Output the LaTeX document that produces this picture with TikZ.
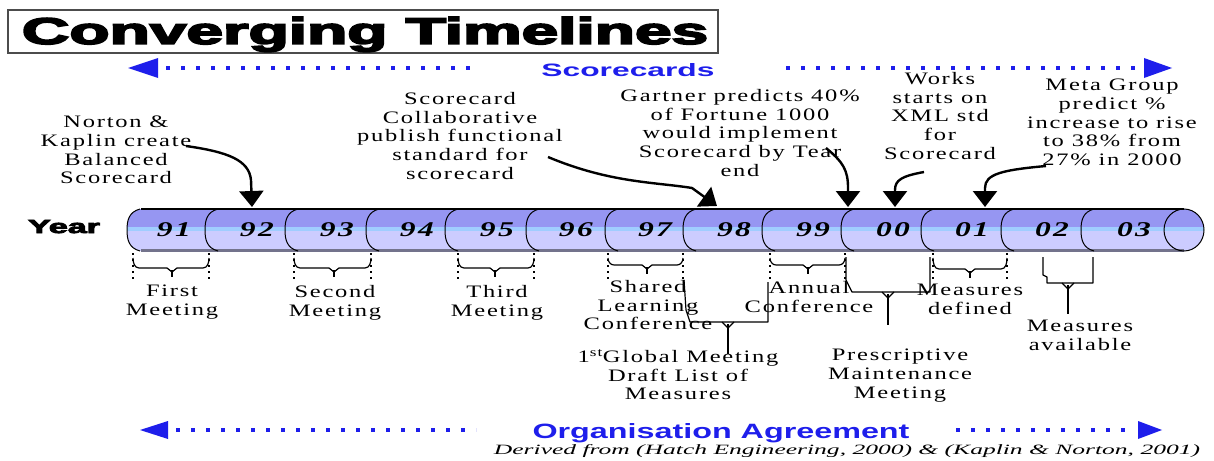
\documentclass[tikz,border=0pt]{standalone}
\usepackage{fontspec}
\usetikzlibrary{arrows.meta}
\setmainfont{Liberation Serif}
\newfontfamily\wide[FakeStretch=1.4,LetterSpace=10]{Liberation Serif}
\newfontfamily\yearfont[FakeStretch=1.5,LetterSpace=12]{Liberation Serif}
\newfontfamily\heavy[BoldFeatures={FakeBold=4}]{Liberation Sans}
\newfontfamily\bsans{Liberation Sans}
\definecolor{topc}{RGB}{150,150,242}
\definecolor{botc}{RGB}{204,204,255}
\definecolor{stripec}{RGB}{160,205,255}
\definecolor{edgec}{RGB}{115,115,140}
\definecolor{blu}{RGB}{30,30,235}
\tikzset{
  lab/.style={font=\wide\fontsize{17.5}{18.7}\selectfont, align=center, inner sep=0pt, anchor=north},
  toparrow/.style={line width=2.4pt, -{Triangle[width=24pt,length=16pt]}},
  brk/.style={line width=1.2pt, line join=round},
  stem/.style={line width=2.6pt},
  dotv/.style={line width=1.2pt, dash pattern=on 2pt off 4pt},
  bluedots/.style={blu, line width=4pt, dash pattern=on 4pt off 11pt},
  segline/.style={line width=1pt}
}
\newcommand\cylpath{(141,209) -- (1184,209) arc[start angle=-90,end angle=90,x radius=20,y radius=21] -- (141,251) .. controls (129,249) and (127,240) .. (127,230) .. controls (127,220) and (129,211) .. (141,209) -- cycle}
\begin{document}
\begin{tikzpicture}[x=1pt,y=-1pt]
\useasboundingbox (0,0) rectangle (1214,460);
% title
\draw[line width=1.6pt, black!70] (8,10) rectangle (718,53);
\node[anchor=base, inner sep=0pt] (title) at (365,44) {\resizebox{686pt}{27pt}{\heavy\bfseries Converging Timelines}};
% Scorecards dotted arrow
\coordinate (sl) at (128,68); \coordinate (sr) at (1172,68);
\fill[blu] (sl) -- (158,58) -- (158,78) -- cycle;
\draw[bluedots] (166,68) -- (472,68);
\node[anchor=base, inner sep=0pt, text=blu] (score) at (628,76) {\resizebox{173pt}{13pt}{\bsans\bfseries Scorecards}};
\draw[bluedots] (786,68) -- (1138,68);
\fill[blu] (sr) -- (1144,58) -- (1144,78) -- cycle;
% Organisation dotted arrow
\coordinate (ol) at (140,430); \coordinate (or) at (1162,430);
\fill[blu] (ol) -- (168,421) -- (168,439) -- cycle;
\draw[bluedots] (176,430) -- (476,430);
\node[anchor=base, inner sep=0pt, text=blu] (org) at (721,438) {\resizebox{377pt}{15pt}{\bsans\bfseries Organisation Agreement}};
\draw[bluedots] (956,430) -- (1134,430);
\fill[blu] (or) -- (1138,421) -- (1138,439) -- cycle;
\node[anchor=base, inner sep=0pt] (derived) at (847,454) {\resizebox{706pt}{10pt}{\itshape Derived from (Hatch Engineering, 2000) \& (Kaplin \& Norton, 2001)}};
% Year label
\node[anchor=base, inner sep=0pt] (year) at (64,233) {\resizebox{72pt}{13pt}{\heavy\bfseries Year}};
% cylinder
\begin{scope}
\clip \cylpath;
\fill[topc] (120,200) rectangle (1210,229);
\fill[botc] (120,229) rectangle (1210,256);
\fill[stripec] (120,226.5) rectangle (1210,231);
\end{scope}
\draw[line width=1.2pt] (141,209) -- (1184,209);
\draw[edgec, line width=2.2pt] (141,250.5) -- (1184,250.5);
\draw[line width=1pt] (1184,230) ellipse [x radius=20, y radius=21];
\foreach \b in {127,205,285,366,445,526,605,683,762,841,921,1001,1081}{
  \draw[segline] (\b+13,209) .. controls (\b+2,212) and (\b,220) .. (\b,230) .. controls (\b,240) and (\b+2,248) .. (\b+13,251);
}
\foreach \c/\n in {174/91,257/92,337/93,417/94,497/95,576/96,655/97,734/98,813/99,893/00,972/01,1052/02,1134/03}{
  \node[font=\yearfont\bfseries\itshape\fontsize{21}{21}\selectfont, inner sep=0pt] (y\n) at (\c,230) {\n};
}
% top annotations
\node[lab] (norton) at (116,116) {Norton \&\\Kaplin create\\Balanced\\Scorecard};
\node[lab] (collab) at (460,92) {Scorecard\\Collaborative\\publish functional\\standard for\\scorecard};
\node[lab] (gartner) at (740,89) {Gartner predicts 40\%\\of Fortune 1000\\would implement\\Scorecard by Tear\\end};
\node[lab] (works) at (940,72) {Works\\starts on\\XML std\\for\\Scorecard};
\node[lab] (meta) at (1112,79) {Meta Group\\predict \%\\increase to rise\\to 38\% from\\27\% in 2000};
\coordinate (t1) at (252,207);
\coordinate (t2) at (717,206);
\coordinate (t3) at (848,207);
\coordinate (t4) at (895,207);
\coordinate (t5) at (985,207);
\draw[toparrow] (186,146) .. controls (228,152) and (249,160) .. (251,180) -- (t1);
\draw[toparrow] (548,157) .. controls (610,183) and (655,182) .. (692,188) -- (t2);
\draw[toparrow] (826,148) .. controls (843,162) and (848,170) .. (848,188) -- (t3);
\draw[toparrow] (924,172) .. controls (902,176) and (895,180) .. (895,190) -- (t4);
\draw[toparrow] (1046,166) .. controls (1002,170) and (985,174) .. (985,188) -- (t5);
% bottom braces
\foreach \xa/\xb/\xm/\yy in {133/209/172/268, 294/371/334/268, 458/534/495/268, 608/683/647/265, 770/845/808/265, 933/1007/970/269}{
  \draw[dotv] (\xa,253) -- (\xa,282);
  \draw[dotv] (\xb,253) -- (\xb,282);
  \draw[brk] (\xa,258) to[out=-90,in=180] (\xa+6,\yy) -- (\xm-5,\yy) -- (\xm,\yy+4) -- (\xm+5,\yy) -- (\xb-6,\yy) to[out=0,in=-90] (\xb,258);
  \draw[stem] (\xm,\yy+2) -- (\xm,\yy+9);
}
% large brackets
\draw[brk] (684,280) -- (686,310) -- (690,322) -- (768,322) -- (768,282);
\draw[brk] (722,322) -- (728,328) -- (734,322);
\draw[stem] (728,324) -- (728,354);
\draw[brk] (846,257) -- (846,280) -- (852,292) -- (930,292) -- (930,257);
\draw[brk] (882,292) -- (888,298) -- (894,292);
\draw[stem] (888,294) -- (888,325);
\draw[brk] (1043,257) -- (1043,275) -- (1047,277) -- (1047,283) -- (1093,283) -- (1093,257);
\draw[brk] (1062,283) -- (1068,289) -- (1074,283);
\draw[stem] (1068,285) -- (1068,314);
% bottom labels
\node[lab] (first) at (172,285) {First\\Meeting};
\node[lab] (second) at (335,285) {Second\\Meeting};
\node[lab] (third) at (497,285) {Third\\Meeting};
\node[lab] (shared) at (648,280) {Shared\\Learning\\Conference};
\node[lab] (annual) at (809,281) {Annual\\Conference};
\node[lab] (mdef) at (970,284) {Measures\\defined};
\node[lab] (mavail) at (1080,320) {Measures\\available};
\node[lab] (global) at (678,349) {1\textsuperscript{st}Global Meeting\\Draft List of\\Measures};
\node[lab] (prescr) at (900,349) {Prescriptive\\Maintenance\\Meeting};
\end{tikzpicture}
\end{document}
